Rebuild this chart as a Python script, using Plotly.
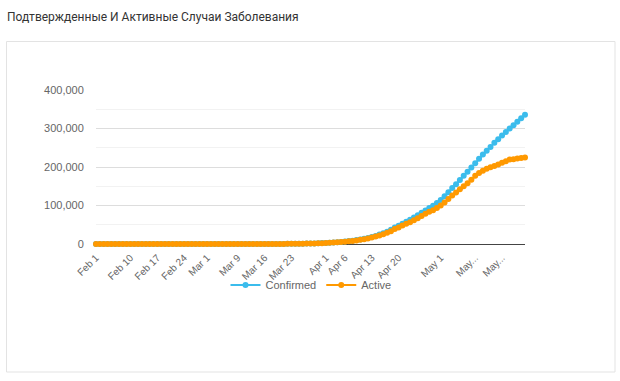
import plotly.graph_objects as go
import pandas as pd

title_text = "Подтвержденные И Активные Случаи Заболевания"
dates = pd.date_range("2020-02-01", "2020-05-23", freq="D")

confirmed_feb = [2] * 29
confirmed_mar = [2, 3, 3, 3, 4, 4, 13, 17, 17, 17, 20, 28, 45, 59, 63, 90, 114, 147, 199, 253,
                 306, 367, 438, 495, 658, 840, 1036, 1264, 1534, 1836, 2337]
confirmed_apr = [2777, 3548, 4149, 4731, 5389, 6343, 7497, 8672, 10131, 11917, 13584, 15770,
                 18328, 21102, 24490, 27938, 32008, 36793, 42853, 47121, 52763, 57999, 62773,
                 68622, 74588, 80949, 87147, 93558, 99399, 106498]
confirmed_may = [114431, 124054, 134686, 145268, 155370, 165929, 177160, 187859, 198676,
                 209688, 221344, 232243, 242271, 252245, 262843, 272043, 281752, 290678,
                 299941, 308705, 317554, 326448, 335882]

active_feb = [2] * 11 + [0] * 18
active_mar = [0, 1, 1, 1, 2, 2, 11, 15, 15, 15, 18, 26, 43, 56, 58, 84, 108, 138, 186, 238,
              290, 350, 417, 472, 626, 798, 975, 1200, 1455, 1737, 2199]
active_apr = [2563, 3308, 3867, 4405, 4992, 5878, 6921, 7988, 9327, 11028, 12548, 14560,
              16934, 19443, 22306, 25402, 29145, 33423, 38702, 42843, 47960, 52455, 56617,
              61443, 67141, 72515, 78290, 83616, 87840, 93212]
active_may = [100042, 107819, 116768, 125817, 134054, 142209, 150300, 158045, 167000,
              177000, 184500, 190500, 195600, 199500, 202500, 206500, 210800, 215200,
              219800, 220341, 221774, 223374, 224558]

confirmed = confirmed_feb + confirmed_mar + confirmed_apr + confirmed_may
active = active_feb + active_mar + active_apr + active_may

tick_dates = ["2020-02-01", "2020-02-10", "2020-02-17", "2020-02-24", "2020-03-01",
              "2020-03-09", "2020-03-16", "2020-03-23", "2020-04-01", "2020-04-06",
              "2020-04-13", "2020-04-20", "2020-05-01", "2020-05-10", "2020-05-17"]
tick_labels = ["Feb 1", "Feb 10", "Feb 17", "Feb 24", "Mar 1", "Mar 9", "Mar 16", "Mar 23",
               "Apr 1", "Apr 6", "Apr 13", "Apr 20", "May 1", "May...", "May..."]
y_ticks = [0, 100000, 200000, 300000, 400000]

W, H = 620, 381
L, R, T, B = 96, 525, 90, 244  # plot area in pixels

def px_x(p):
    return (p - L) / (R - L)

def px_y(p):
    return (B - p) / (B - T)

fig = go.Figure()
fig.add_trace(go.Scatter(x=dates, y=confirmed, name="Confirmed", mode="lines+markers",
                         line=dict(color="#3bbcec", width=2),
                         marker=dict(color="#3bbcec", size=6), cliponaxis=False))
fig.add_trace(go.Scatter(x=dates, y=active, name="Active", mode="lines+markers",
                         line=dict(color="#ff9900", width=2),
                         marker=dict(color="#ff9900", size=6), cliponaxis=False))

fig.update_layout(
    width=W, height=H,
    margin=dict(l=L, r=W - R, t=T, b=H - B, pad=0),
    paper_bgcolor="white", plot_bgcolor="white",
    font=dict(family="Liberation Sans, Arial, sans-serif", size=11, color="#666666"),
    title=dict(text=title_text, xref="container", yref="container",
               x=7 / W, xanchor="left", y=1 - 17 / H, yanchor="middle",
               font=dict(family="Roboto, Noto Sans, sans-serif", size=12, color="#333333")),
    showlegend=True,
    legend=dict(orientation="h", x=px_x(311), xanchor="center", y=px_y(285), yanchor="middle",
                font=dict(size=11, color="#666666"), bgcolor="rgba(0,0,0,0)",
                itemwidth=30, tracegroupgap=0),
    xaxis=dict(type="date", range=[dates[0], dates[-1]], tickmode="array",
               tickvals=tick_dates, ticktext=tick_labels, tickangle=-45,
               showgrid=False, zeroline=False, showline=False,
               ticks="outside", ticklen=3, tickcolor="rgba(0,0,0,0)",
               tickfont=dict(size=10, color="#666666")),
    yaxis=dict(range=[0, 400000], tickmode="array", tickvals=y_ticks,
               tickformat=",d", showgrid=True, gridcolor="#dddddd", gridwidth=1,
               minor=dict(dtick=50000, tick0=0, showgrid=True, gridcolor="#f2f2f2"),
               zeroline=True, zerolinecolor="#444444", zerolinewidth=1,
               showline=False, ticks="outside", ticklen=9, tickcolor="rgba(0,0,0,0)",
               tickfont=dict(size=11, color="#666666")),
    shapes=[dict(type="rect", xref="paper", yref="paper",
                 x0=px_x(6.5), x1=px_x(615), y0=px_y(372), y1=px_y(41.5),
                 line=dict(color="#e3e3e3", width=1), fillcolor="rgba(0,0,0,0)", layer="below")],
)

fig.write_html("out.html", config={"displayModeBar": False},
               post_script="document.body.style.margin='0';")
